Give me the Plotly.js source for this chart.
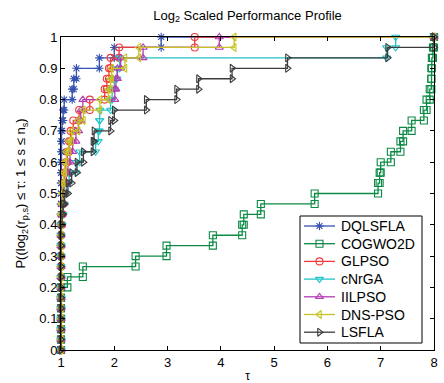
<!DOCTYPE html>
<html>
<head>
<meta charset="utf-8">
<script src="https://cdn.plot.ly/plotly-3.0.1.min.js"></script>
<style>html,body{margin:0;padding:0;background:#fff;}#chart{width:444px;height:383px;}</style>
</head>
<body>
<div id="chart"></div>
<script>
// Number of problems (levels k/30)
const nProblems = 30;
const xMax = 8;

const solverNames = ["DQLSFLA", "COGWO2D", "GLPSO", "cNrGA", "IILPSO", "DNS-PSO", "LSFLA"];

// Sorted log2-scaled performance ratios (tau at which each level k/30 is reached)
const ratiosDQLSFLA = [1,1,1,1,1,1,1,1,1,1,1,1, 1,1,1,1,1.005,1.005,1.01,1.01,1.01, 1.02,1.04,1.06,1.21,1.24,1.29,1.72,2.0,2.88];
const ratiosCOGWO2D = [1,1,1,1,1,1, 1.12,1.41,2.4,2.98,3.85,4.40,4.43,4.75,5.76,6.95,6.98,7.0,7.19,7.37,7.42,7.58,7.81,7.86,7.92,7.95,7.95,7.96,7.98,8.0];
const ratiosGLPSO   = [1,1,1,1,1,1,1,1,1,1,1,1, 1.02,1.03,1.04,1.05,1.07,1.09,1.12,1.15,1.18,1.23,1.34,1.54,1.82,1.86,1.9,1.93,2.09,3.51];
const ratiosCNRGA   = [1,1,1,1,1,1,1,1,1,1,1,1, 1.02,1.04,1.06,1.1,1.15,1.28,1.35,1.65,1.7,1.72,1.73,1.93,1.96,2.0,2.05,2.1,7.11,7.28];
const ratiosIILPSO  = [1,1,1,1,1,1,1,1,1,1,1,1, 1.01,1.02,1.04,1.06,1.1,1.13,1.17,1.22,1.28,1.33,1.37,1.41,2.01,2.03,2.06,2.12,2.54,3.97];
const ratiosDNSPSO  = [1,1,1,1,1,1,1,1,1,1,1,1, 1.0,1.01,1.02,1.03,1.05,1.07,1.1,1.15,1.2,1.32,1.42,1.73,1.89,1.93,1.95,2.2,2.46,4.25];
const ratiosLSFLA   = [1,1,1,1,1,1,1,1,1,1,1,1, 1.02,1.04,1.07,1.13,1.2,1.3,1.42,1.6,1.62,1.93,2.0,2.6,3.17,3.58,4.21,5.25,7.13,8.0];

const allRatios = [ratiosDQLSFLA, ratiosCOGWO2D, ratiosGLPSO, ratiosCNRGA, ratiosIILPSO, ratiosDNSPSO, ratiosLSFLA];

const colors  = ["#3552b0", "#0a8a45", "#f03a3a", "#22c4c8", "#b43cb4", "#c4c424", "#3c3c3c"];
const symbols = ["asterisk-open", "square-open", "circle-open", "triangle-down-open", "triangle-up-open", "triangle-left-open", "triangle-right-open"];

// Build stair vertices (MATLAB stairs style: markers at every vertex)
function stairs(r) {
  const xs = [1], ys = [0];
  for (let k = 0; k < r.length; k++) {
    xs.push(r[k]); ys.push(k / nProblems);
    xs.push(r[k]); ys.push((k + 1) / nProblems);
  }
  xs.push(xMax); ys.push(1);
  return {xs, ys};
}

const traces = allRatios.map((r, i) => {
  const s = stairs(r);
  return {
    x: s.xs, y: s.ys, name: solverNames[i], type: "scatter", mode: "lines+markers",
    cliponaxis: false, showlegend: false,
    line: {color: colors[i], width: 1.3},
    marker: {symbol: symbols[i], size: 7, color: colors[i], line: {color: colors[i], width: 1.1}}
  };
});

// ---- MATLAB-style legend box (compact rows), built in plot-area fractions ----
const W = 444, H = 383, M = {l: 61, r: 10, t: 37, b: 33};
const pw = W - M.l - M.r, ph = H - M.t - M.b;
const fx = px => (px - M.l) / pw;          // pixel x -> paper fraction
const fy = py => (H - M.b - py) / ph;      // pixel y -> paper fraction
const leg = {left: 300, right: 422, top: 216, bottom: 343, row0: 226, rowStep: 17.7,
             lineX0: 304, lineX1: 335, textX: 339};

const shapes = [{type: "rect", xref: "paper", yref: "paper", layer: "above",
  x0: fx(leg.left), x1: fx(leg.right), y0: fy(leg.bottom), y1: fy(leg.top),
  line: {color: "#000", width: 1}, fillcolor: "rgba(255,255,255,0)"}];
const annotations = [];
const legMarkX = [], legMarkY = [];
solverNames.forEach((nm, i) => {
  const yc = fy(leg.row0 + i * leg.rowStep);
  shapes.push({type: "line", xref: "paper", yref: "paper", layer: "above",
    x0: fx(leg.lineX0), x1: fx(leg.lineX1), y0: yc, y1: yc, line: {color: colors[i], width: 1.3}});
  annotations.push({text: nm, xref: "paper", yref: "paper", x: fx(leg.textX), y: yc,
    xanchor: "left", yanchor: "middle", showarrow: false,
    font: {family: "Liberation Sans, Arial, sans-serif", size: 14, color: "#000"}});
  traces.push({x: [(fx(leg.lineX0) + fx(leg.lineX1)) / 2], y: [yc], xaxis: "x2", yaxis: "y2",
    type: "scatter", mode: "markers", showlegend: false, cliponaxis: false, hoverinfo: "skip",
    marker: {symbol: symbols[i], size: 7, color: colors[i], line: {color: colors[i], width: 1.1}}});
});

const font = "Liberation Sans, Arial, sans-serif";
const layout = {
  width: W, height: H,
  margin: M,
  paper_bgcolor: "#fff", plot_bgcolor: "#fff",
  font: {family: font, size: 13, color: "#000"},
  title: {text: "Log<sub>2</sub> Scaled Performance Profile", font: {family: font, size: 13, color: "#000"},
          x: 0.5, xref: "paper", y: 1 - 15 / H, yref: "container", yanchor: "middle"},
  xaxis: {range: [1, 8], dtick: 1, tick0: 1, showgrid: false, zeroline: false,
          showline: true, linecolor: "#000", linewidth: 1, mirror: "ticks",
          ticks: "inside", ticklen: 4, tickcolor: "#000",
          tickfont: {family: font, size: 13, color: "#000"},
          title: {text: "τ", font: {family: font, size: 12, color: "#000"}, standoff: 7}},
  yaxis: {range: [0, 1], dtick: 0.1, tick0: 0, showgrid: false, zeroline: false,
          showline: true, linecolor: "#000", linewidth: 1, mirror: "ticks",
          ticks: "inside", ticklen: 4, tickcolor: "#000",
          tickfont: {family: font, size: 13, color: "#000"},
          title: {text: "P((log<sub>2</sub>(r<sub>p,s</sub>) ≤ τ: 1 ≤ s ≤ n<sub>s</sub>)",
                  font: {family: font, size: 13, color: "#000"}, standoff: 10}},
  xaxis2: {overlaying: "x", anchor: "y2", range: [0, 1], visible: false, fixedrange: true},
  yaxis2: {overlaying: "y", anchor: "x2", range: [0, 1], visible: false, fixedrange: true},
  shapes: shapes,
  annotations: annotations,
  showlegend: false
};

Plotly.newPlot("chart", traces, layout, {displayModeBar: false, staticPlot: true});
</script>
</body>
</html>
